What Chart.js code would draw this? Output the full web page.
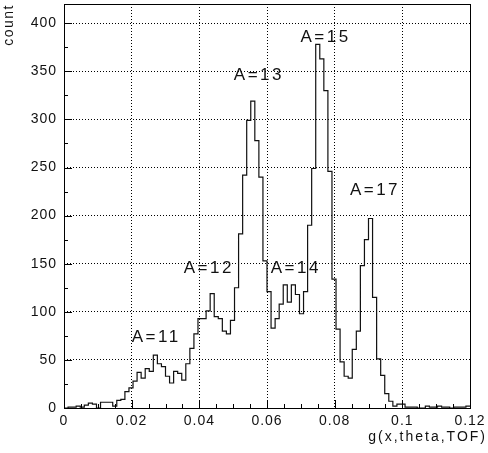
<!DOCTYPE html>
<html>
<head>
<meta charset="utf-8">
<script src="https://cdn.jsdelivr.net/npm/chart.js@4"></script>
<style>
  html,body{margin:0;padding:0;background:#fff;}
  #c{display:block;}
</style>
</head>
<body>
<canvas id="c" width="488" height="453"></canvas>
<script>
// histogram: 100 bins from 0 to 0.12
const binLow = 0;
const binWidth = 0.0012;
const counts = [
  0, 1, 1, 2, 1, 3, 5, 4, 0, 6,
  6, 6, 2, 8, 9, 17, 21, 28, 37, 31,
  41, 38, 55, 46, 43, 33, 26, 38, 36, 29,
  46, 62, 77, 93, 93, 101, 119, 95, 93, 80,
  77, 91, 125, 181, 242, 299, 319, 278, 240, 153,
  121, 83, 93, 108, 128, 110, 128, 118, 98, 121,
  190, 249, 378, 363, 330, 246, 134, 82, 48, 33,
  31, 61, 80, 148, 175, 197, 115, 51, 34, 15,
  7, 2, 4, 4, 1, 1, 1, 0, 0, 2,
  1, 1, 2, 1, 1, 0, 1, 1, 1, 2
];

// peak labels
const peakNames = ['A=11', 'A=12', 'A=13', 'A=14', 'A=15', 'A=17'];
const peakX = [0.0200, 0.0354, 0.0502, 0.0611, 0.0699, 0.0845];
const peakY = [74, 145, 346, 145, 385, 226];

const xTicks = [0, 0.02, 0.04, 0.06, 0.08, 0.1, 0.12];
const xTickLabels = ['0', '0.02', '0.04', '0.06', '0.08', '0.1', '0.12'];
const yTicks = [0, 50, 100, 150, 200, 250, 300, 350, 400];

const FONT = '"Liberation Sans", Arial, sans-serif';

// step points at bin edges
const pts = counts.map((v, i) => ({ x: binLow + i * binWidth, y: v }));
pts.push({ x: binLow + counts.length * binWidth, y: counts[counts.length - 1] });

const frame = {
  id: 'frame',
  beforeDraw(chart) {
    chart.ctx.letterSpacing = '1px';
  },
  afterDraw(chart) {
    const { ctx, chartArea: a, scales: { x, y } } = chart;
    ctx.save();
    ctx.strokeStyle = '#000';
    ctx.lineWidth = 1;
    ctx.strokeRect(Math.round(a.left) + 0.5, Math.round(a.top) + 0.5,
      Math.round(a.right - a.left), Math.round(a.bottom - a.top));

    // inward ticks
    ctx.beginPath();
    for (let v = 0; v <= 420; v += 25) {
      const py = Math.round(y.getPixelForValue(v)) + 0.5;
      const len = v % 50 === 0 ? 8 : 4;
      ctx.moveTo(a.left, py);
      ctx.lineTo(a.left + len, py);
    }
    for (let i = 0; i <= 24; i++) {
      const px = Math.round(x.getPixelForValue(i * 0.005)) + 0.5;
      const len = i % 4 === 0 ? 8 : 4;
      ctx.moveTo(px, a.bottom);
      ctx.lineTo(px, a.bottom - len);
    }
    ctx.stroke();

    // peak labels
    ctx.fillStyle = '#111';
    ctx.font = '17px ' + FONT;
    ctx.letterSpacing = '2.5px';
    ctx.textBaseline = 'middle';
    ctx.textAlign = 'left';
    peakNames.forEach((t, i) => {
      ctx.fillText(t, x.getPixelForValue(peakX[i]), y.getPixelForValue(peakY[i]));
    });

    // axis titles
    ctx.font = '14px ' + FONT;
    ctx.letterSpacing = '2px';
    ctx.textAlign = 'right';
    ctx.fillText('g(x,theta,TOF)', 487, 437);
    ctx.letterSpacing = '1.5px';
    ctx.translate(9, 4);
    ctx.rotate(-Math.PI / 2);
    ctx.textAlign = 'right';
    ctx.fillText('count', 0, 0);
    ctx.restore();
  }
};

new Chart(document.getElementById('c'), {
  type: 'line',
  data: {
    datasets: [{
      data: pts,
      stepped: 'before',
      borderColor: '#111',
      borderWidth: 1.2,
      pointRadius: 0,
      fill: false
    }]
  },
  options: {
    responsive: false,
    animation: false,
    layout: { padding: { top: 4, right: 18, left: 0, bottom: 0 } },
    plugins: { legend: { display: false }, tooltip: { enabled: false } },
    scales: {
      x: {
        type: 'linear',
        min: 0, max: 0.12,
        afterFit(s) { s.height = 45; s.paddingLeft = 0; s.paddingRight = 0; },
        afterBuildTicks(s) { s.ticks = xTicks.map(v => ({ value: v })); },
        grid: { color: '#000', lineWidth: 1, drawTicks: false },
        border: { display: false, dash: [1, 2] },
        ticks: {
          padding: 5,
          color: '#111',
          font: { family: FONT, size: 14 },
          maxRotation: 0,
          callback: (v) => { const i = xTicks.findIndex(t => Math.abs(t - v) < 1e-9); return i >= 0 ? xTickLabels[i] : ''; }
        }
      },
      y: {
        min: 0, max: 420,
        afterFit(s) { s.width = 64; s.paddingTop = 0; s.paddingBottom = 0; },
        afterBuildTicks(s) { s.ticks = yTicks.map(v => ({ value: v })); },
        grid: { color: '#000', lineWidth: 1, drawTicks: false },
        border: { display: false, dash: [1, 2] },
        ticks: {
          padding: 7,
          color: '#111',
          font: { family: FONT, size: 14 }
        }
      }
    }
  },
  plugins: [frame]
});
</script>
</body>
</html>
